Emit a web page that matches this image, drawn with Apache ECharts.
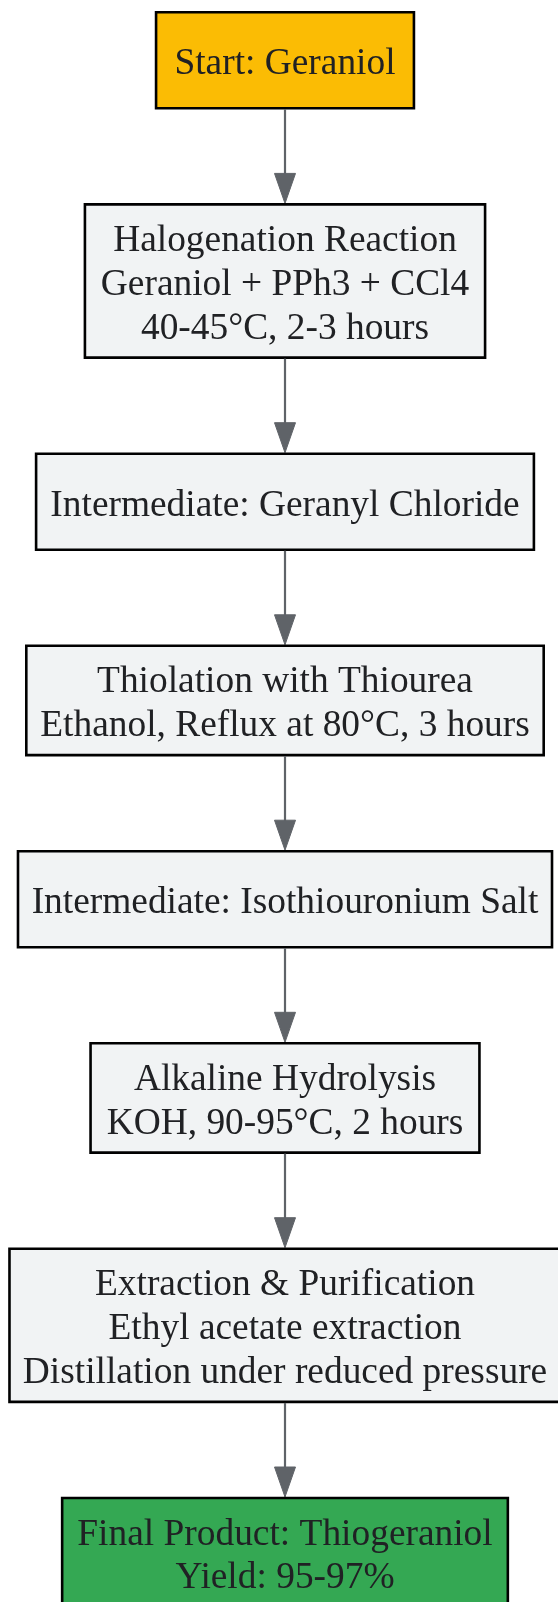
<!DOCTYPE html>
<html>
<head>
<meta charset="utf-8">
<script src="https://cdn.jsdelivr.net/npm/echarts@6/dist/echarts.min.js"></script>
<style>
  html, body { margin: 0; padding: 0; background: #fff; }
  #chart { width: 558px; height: 1602px; }
</style>
</head>
<body>
<div id="chart"></div>
<script>
  // flow steps, top to bottom
  var stepLabels = [
    'Start: Geraniol',
    'Halogenation Reaction\nGeraniol + PPh3 + CCl4\n40-45°C, 2-3 hours',
    'Intermediate: Geranyl Chloride',
    'Thiolation with Thiourea\nEthanol, Reflux at 80°C, 3 hours',
    'Intermediate: Isothiouronium Salt',
    'Alkaline Hydrolysis\nKOH, 90-95°C, 2 hours',
    'Extraction & Purification\nEthyl acetate extraction\nDistillation under reduced pressure',
    'Final Product: Thiogeraniol\nYield: 95-97%'
  ];
  var stepKinds = ['start', 'step', 'step', 'step', 'step', 'step', 'step', 'end'];

  var fills = { start: '#FBBC04', step: '#F1F3F4', end: '#34A853' };
  var FONT = '37.4px "Liberation Serif", "Times New Roman", serif';
  var LINE_H = 43.9;
  var GAP = 96.1;
  var CX = 285;

  var ctx = document.createElement('canvas').getContext('2d');
  ctx.font = FONT;
  function textWidth(s) {
    return Math.max.apply(null, s.split('\n').map(function (l) { return ctx.measureText(l).width; }));
  }

  // stack boxes: height from line count, width from text
  var layout = [];
  var y = 12.3;
  stepLabels.forEach(function (s, i) {
    var lines = s.split('\n').length;
    var h = Math.max(96, lines * LINE_H + 21.5);
    var w = textWidth(s) * 0.967 + 44;
    layout.push({ top: y, h: h, w: w });
    y += h + GAP;
  });

  var seriesData = stepLabels.map(function (s, i) { return [i, layout[i].top]; });

  var chart = echarts.init(document.getElementById('chart'));
  var option = {
    animation: false,
    grid: { left: 0, right: 0, top: 0, bottom: 0 },
    xAxis: { type: 'value', min: 0, max: 558, show: false },
    yAxis: { type: 'value', min: 0, max: 1602, inverse: true, show: false },
    series: [{
      type: 'custom',
      data: seriesData,
      renderItem: function (params, api) {
        var i = api.value(0);
        var L = layout[i];
        var tl = api.coord([CX - L.w / 2, L.top]);
        var br = api.coord([CX + L.w / 2, L.top + L.h]);
        var c = api.coord([CX, L.top + L.h / 2 + 4]);
        var children = [{
          type: 'rect',
          shape: { x: tl[0], y: tl[1], width: br[0] - tl[0], height: br[1] - tl[1] },
          style: { fill: fills[stepKinds[i]], stroke: '#000', lineWidth: 2.6 }
        }, {
          type: 'text',
          x: c[0], y: c[1],
          style: {
            text: stepLabels[i],
            font: FONT,
            fill: '#202124',
            align: 'center',
            verticalAlign: 'middle',
            lineHeight: LINE_H
          }
        }];
        if (i < layout.length - 1) {
          var from = api.coord([CX, L.top + L.h]);
          var to = api.coord([CX, layout[i + 1].top]);
          children.push({
            type: 'line',
            shape: { x1: from[0], y1: from[1] + 1, x2: to[0], y2: to[1] - 20 },
            style: { stroke: '#5F6368', lineWidth: 2.2 }
          }, {
            type: 'polygon',
            shape: { points: [[to[0] - 10.5, to[1] - 31], [to[0] + 10.5, to[1] - 31], [to[0], to[1] - 1]] },
            style: { fill: '#5F6368', stroke: '#5F6368', lineWidth: 1 }
          });
        }
        return { type: 'group', children: children };
      }
    }]
  };
  chart.setOption(option);
</script>
</body>
</html>
